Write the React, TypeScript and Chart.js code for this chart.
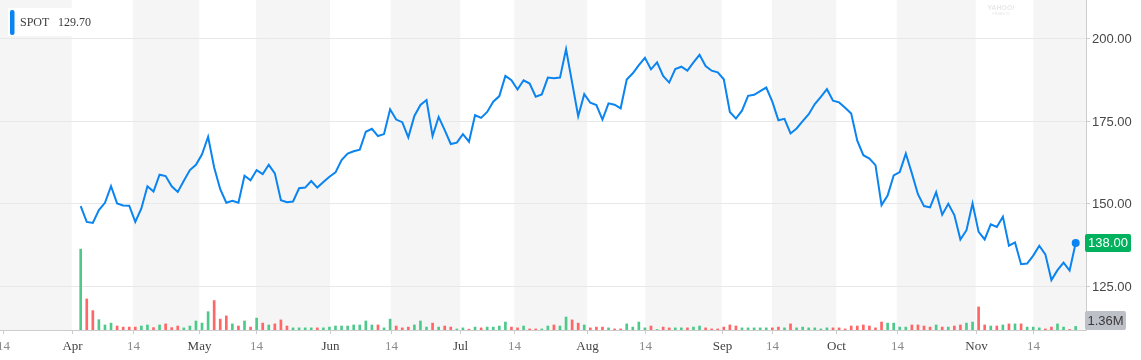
import React, { useEffect, useRef } from 'react';
import { Chart, registerables } from 'chart.js';

Chart.register(...registerables);

const TICKER = 'SPOT';
const HOVER_PRICE = '129.70';
const LAST_PRICE_LABEL = '138.00';
const LAST_VOLUME_LABEL = '1.36M';

// Daily closes (trading-day index 1..165)
const closes = [
  149.2, 144.4, 144.1, 148.0, 150.2, 155.2, 150.0, 149.4, 149.3, 144.4,
  148.5, 155.2, 153.6, 158.7, 158.3, 155.2, 153.5, 156.9, 160.1, 161.7,
  164.9, 170.2, 160.9, 154.3, 150.2, 150.8, 150.2, 158.4, 157.0, 160.1,
  158.9, 161.7, 159.1, 151.0, 150.4, 150.6, 154.6, 154.8, 156.8, 154.8,
  156.5, 158.1, 159.4, 163.1, 165.1, 165.8, 166.3, 171.7, 172.6, 170.4,
  171.0, 178.5, 175.4, 174.6, 170.0, 176.5, 179.8, 181.3, 170.4, 176.2,
  172.2, 168.0, 168.4, 171.0, 168.7, 176.7, 175.9, 177.7, 180.8, 182.5,
  188.6, 187.3, 184.5, 187.3, 186.3, 182.3, 183.0, 188.1, 187.9, 188.1,
  196.7, 186.6, 176.4, 183.1, 180.5, 179.8, 175.4, 180.3, 179.9, 178.8,
  187.5, 189.4, 191.9, 194.1, 190.6, 192.7, 188.6, 186.6, 190.7, 191.4,
  190.2, 192.7, 195.0, 191.6, 190.2, 189.7, 187.6, 177.7, 175.7, 178.1,
  182.6, 182.9, 184.0, 185.1, 180.8, 175.2, 175.6, 171.2, 172.7, 174.9,
  177.0, 180.1, 182.3, 184.6, 181.1, 180.6, 179.0, 177.2, 169.0, 164.6,
  163.6, 161.6, 149.5, 152.4, 158.5, 159.5, 165.1, 159.1, 152.8, 149.2,
  148.8, 153.4, 146.6, 149.9, 146.5, 139.1, 141.9, 150.0, 141.4, 139.1,
  143.7, 142.9, 146.0, 137.2, 138.2, 131.6, 131.8, 134.2, 137.2, 134.6,
  126.8, 129.8, 132.1, 129.7, 138.0,
];

// Daily volume in millions
const volumes = [
  30.5, 11.7, 7.3, 3.9, 1.9, 2.6, 1.5, 1.1, 1.1, 1.1,
  1.5, 1.9, 0.9, 1.9, 2.3, 0.9, 1.5, 0.8, 1.5, 3.4,
  2.6, 6.9, 11.1, 4.1, 5.3, 2.3, 1.5, 3.4, 1.1, 4.5,
  2.6, 1.9, 2.3, 3.8, 1.5, 0.8, 0.8, 0.8, 0.8, 0.8,
  0.8, 1.1, 1.5, 1.5, 1.5, 1.9, 1.9, 3.4, 1.9, 1.9,
  0.8, 4.1, 1.5, 0.8, 1.1, 1.9, 3.4, 1.1, 2.6, 1.1,
  1.5, 1.1, 0.4, 0.8, 0.3, 1.1, 0.8, 1.1, 1.1, 1.5,
  3.0, 1.1, 0.8, 1.5, 0.4, 0.4, 0.4, 1.5, 1.9, 1.5,
  4.9, 3.8, 2.6, 1.9, 0.8, 1.1, 1.1, 0.8, 0.4, 0.4,
  2.3, 1.1, 3.0, 0.8, 1.5, 0.2, 1.1, 0.8, 0.8, 0.8,
  0.8, 1.1, 1.5, 0.8, 0.4, 0.4, 1.1, 1.9, 1.5, 0.8,
  0.8, 0.8, 0.8, 0.8, 0.8, 1.1, 0.8, 2.3, 0.8, 1.1,
  0.8, 0.8, 0.4, 0.8, 0.8, 0.8, 0.4, 1.5, 1.5, 1.9,
  1.5, 0.8, 3.0, 2.6, 2.6, 1.1, 1.1, 1.9, 1.9, 1.5,
  1.1, 1.9, 1.1, 1.1, 1.5, 1.9, 2.6, 3.0, 8.7, 1.9,
  1.5, 1.5, 1.9, 2.3, 2.3, 2.3, 1.1, 1.1, 0.8, 0.4,
  1.1, 2.3, 1.1, 0.2, 1.36,
];

const tickLabels = ['14', 'Apr', '14', 'May', '14', 'Jun', '14', 'Jul', '14', 'Aug', '14', 'Sep', '14', 'Oct', '14', 'Nov', '14'];
const tickPositions = [-11.86, -0.48, 9.57, 20.55, 29.89, 42.09, 52.1, 63.57, 72.47, 84.5, 94.06, 106.65, 114.94, 125.54, 135.5, 148.52, 158.01];
const priceTicks = [125, 150, 175, 200];

const X_MIN = -12.3;
const X_MAX = 166.7;
const PRICE_MIN = 111.68;
const PRICE_MAX = 211.6;
const VOL_MAX = 124.4;

const BLUE = '#0a84f0';
const GREEN_BAR = '#4fc98b';
const RED_BAR = '#ff6666';

function roundRect(ctx: CanvasRenderingContext2D, x: number, y: number, w: number, h: number, r: number) {
  ctx.beginPath();
  ctx.moveTo(x + r, y);
  ctx.lineTo(x + w - r, y);
  ctx.quadraticCurveTo(x + w, y, x + w, y + r);
  ctx.lineTo(x + w, y + h - r);
  ctx.quadraticCurveTo(x + w, y + h, x + w - r, y + h);
  ctx.lineTo(x + r, y + h);
  ctx.quadraticCurveTo(x, y + h, x, y + h - r);
  ctx.lineTo(x, y + r);
  ctx.quadraticCurveTo(x, y, x + r, y);
  ctx.closePath();
}

const decorPlugin = {
  id: 'decor',
  beforeDatasetsDraw(chart: any) {
    const { ctx, chartArea: a, scales } = chart;
    const xs = scales.x;
    const ys = scales.y;
    ctx.save();
    // alternating bands
    ctx.fillStyle = '#f5f5f5';
    for (let k = 0; k < tickLabels.length; k++) {
      if (tickLabels[k] !== '14') continue;
      const start = k === 0 ? X_MIN : tickPositions[k];
      const end = k + 1 < tickPositions.length ? tickPositions[k + 1] : X_MAX;
      const x0 = xs.getPixelForValue(start);
      const x1 = xs.getPixelForValue(end);
      ctx.fillRect(x0, a.top, x1 - x0, a.bottom - a.top);
    }
    // horizontal grid
    ctx.strokeStyle = '#e8e8e8';
    ctx.lineWidth = 1;
    for (const p of priceTicks) {
      const yy = Math.round(ys.getPixelForValue(p)) + 0.5;
      ctx.beginPath();
      ctx.moveTo(a.left, yy);
      ctx.lineTo(a.right, yy);
      ctx.stroke();
    }
    // watermark
    ctx.fillStyle = '#e9e9e9';
    ctx.textAlign = 'center';
    ctx.textBaseline = 'middle';
    ctx.font = 'bold 7px "Liberation Sans", Arial, sans-serif';
    ctx.fillText('YAHOO!', 1001, 8.5);
    ctx.font = '4px "Liberation Sans", Arial, sans-serif';
    ctx.fillText('FINANCE', 1001, 14);
    ctx.restore();
  },
  afterDraw(chart: any) {
    const { ctx, chartArea: a, scales } = chart;
    const xs = scales.x;
    const ys = scales.y;
    ctx.save();
    // axis lines
    ctx.strokeStyle = '#cccccc';
    ctx.lineWidth = 1;
    ctx.beginPath();
    ctx.moveTo(a.right + 0.5, 0);
    ctx.lineTo(a.right + 0.5, a.bottom + 0.5);
    ctx.moveTo(0, a.bottom + 0.5);
    ctx.lineTo(a.right + 0.5, a.bottom + 0.5);
    ctx.stroke();
    // y ticks + labels
    ctx.font = '13px "Liberation Sans", Arial, sans-serif';
    ctx.textAlign = 'left';
    ctx.textBaseline = 'middle';
    for (const p of priceTicks) {
      const yy = Math.round(ys.getPixelForValue(p)) + 0.5;
      ctx.strokeStyle = '#cccccc';
      ctx.beginPath();
      ctx.moveTo(a.right, yy);
      ctx.lineTo(a.right + 4, yy);
      ctx.stroke();
      ctx.fillStyle = '#474747';
      ctx.fillText(p.toFixed(2), a.right + 6, yy + 0.5);
    }
    // x ticks + labels
    ctx.font = '13px "Liberation Serif", "Times New Roman", serif';
    ctx.textAlign = 'center';
    for (let k = 0; k < tickLabels.length; k++) {
      const xx = Math.round(xs.getPixelForValue(tickPositions[k])) + 0.5;
      ctx.strokeStyle = '#cccccc';
      ctx.beginPath();
      ctx.moveTo(xx, a.bottom);
      ctx.lineTo(xx, a.bottom + 4);
      ctx.stroke();
      ctx.fillStyle = tickLabels[k] === '14' ? '#8a8a8a' : '#444444';
      ctx.fillText(tickLabels[k], xx, a.bottom + 17);
    }
    // last price tag
    const last = closes[closes.length - 1];
    const ly = ys.getPixelForValue(last);
    ctx.fillStyle = '#00b15d';
    roundRect(ctx, a.right - 1, ly - 9, 46, 18, 2);
    ctx.fill();
    ctx.fillStyle = '#ffffff';
    ctx.font = '13px "Liberation Sans", Arial, sans-serif';
    ctx.textAlign = 'center';
    ctx.fillText(LAST_PRICE_LABEL, a.right + 22, ly + 0.5);
    // volume tag
    ctx.fillStyle = '#bec0c8';
    roundRect(ctx, a.right - 1, a.bottom - 19, 41, 19, 2);
    ctx.fill();
    ctx.fillStyle = '#3a3a3a';
    ctx.fillText(LAST_VOLUME_LABEL, a.right + 19.5, a.bottom - 9);
    // legend
    ctx.fillStyle = '#ffffff';
    ctx.fillRect(8, 8, 94, 28);
    ctx.fillStyle = BLUE;
    roundRect(ctx, 10, 10, 4.5, 25, 2);
    ctx.fill();
    ctx.fillStyle = '#3c3c3c';
    ctx.font = '12px "Liberation Serif", "Times New Roman", serif';
    ctx.textAlign = 'left';
    ctx.textBaseline = 'middle';
    ctx.fillText(TICKER, 20, 23);
    ctx.fillText(HOVER_PRICE, 58, 23);
    ctx.restore();
  },
};

export default function App() {
  const canvasRef = useRef<HTMLCanvasElement | null>(null);

  useEffect(() => {
    if (!canvasRef.current) return;
    const linePoints = closes.map((c, i) => ({ x: i + 1, y: c }));
    const volPoints = volumes.map((v, i) => ({ x: i + 1, y: v }));
    const volColors = closes.map((c, i) => (i === 0 || c >= closes[i - 1] ? GREEN_BAR : RED_BAR));
    const lastIdx = closes.length - 1;

    const chart = new Chart(canvasRef.current, {
      type: 'line',
      data: {
        datasets: [
          {
            type: 'line',
            data: linePoints,
            borderColor: BLUE,
            backgroundColor: BLUE,
            borderWidth: 2,
            tension: 0,
            pointRadius: (c: any) => (c.dataIndex === lastIdx ? 4 : 0),
            pointBorderWidth: 0,
            pointBackgroundColor: BLUE,
            xAxisID: 'x',
            yAxisID: 'y',
            order: 1,
            clip: false,
          } as any,
          {
            type: 'bar',
            data: volPoints,
            backgroundColor: volColors,
            barThickness: 2,
            grouped: false,
            xAxisID: 'x',
            yAxisID: 'vol',
            order: 2,
          } as any,
        ],
      },
      options: {
        responsive: false,
        animation: false,
        devicePixelRatio: 1,
        layout: { autoPadding: false, padding: { left: 0, top: 0, right: 55, bottom: 30 } },
        plugins: { legend: { display: false }, tooltip: { enabled: false } },
        events: [],
        scales: {
          x: { type: 'linear', min: X_MIN, max: X_MAX, offset: false, display: false },
          y: { type: 'linear', min: PRICE_MIN, max: PRICE_MAX, display: false, position: 'right' },
          vol: { type: 'linear', min: 0, max: VOL_MAX, display: false, position: 'right' },
        },
      } as any,
      plugins: [decorPlugin],
    });
    return () => chart.destroy();
  }, []);

  return (
    <div style={{ position: 'fixed', left: 0, top: 0, width: 1141, height: 360, background: '#ffffff' }}>
      <canvas ref={canvasRef} width={1141} height={360} style={{ display: 'block' }} />
    </div>
  );
}
